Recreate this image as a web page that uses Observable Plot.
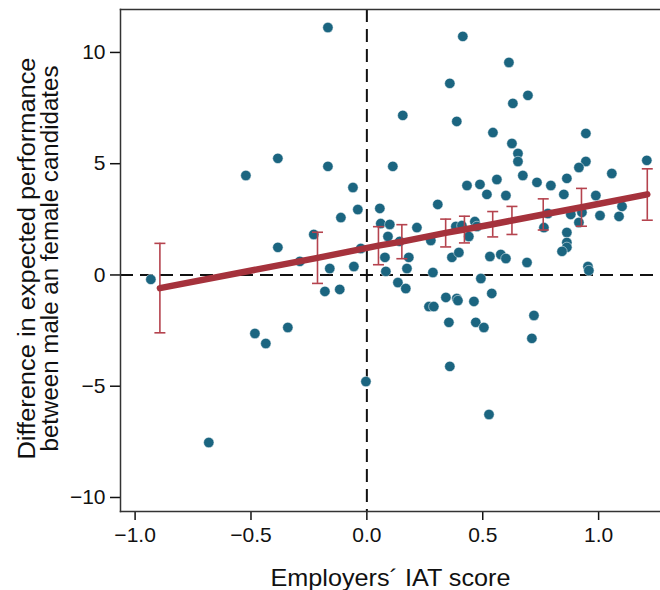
<!DOCTYPE html>
<html><head><meta charset="utf-8">
<script src="https://cdn.jsdelivr.net/npm/d3@7"></script>
<script src="https://cdn.jsdelivr.net/npm/@observablehq/plot@0.6"></script>
<style>body{margin:0;background:#fff;}</style>
</head><body><div id="chart"></div>
<script>
// Employers' IAT score (x) and difference in expected performance (y), one entry per employer
const iatScore = [-0.932,-0.522,-0.384,-0.168,-0.168,-0.060,-0.039,-0.112,-0.229,-0.384,-0.026,-0.289,-0.160,-0.056,-0.181,-0.117,-0.483,-0.436,-0.341,-0.682,-0.004,
0.414,0.613,0.358,0.695,0.630,0.155,0.388,0.544,0.945,0.626,0.652,0.652,0.112,0.945,0.915,1.208,0.673,1.057,0.432,0.488,0.561,0.734,0.794,0.863,0.518,0.600,0.850,0.988,0.306,0.056,1.101,0.781,0.880,0.928,1.006,1.088,0.060,0.099,0.091,0.216,0.142,0.276,0.384,0.410,0.466,0.475,0.440,0.764,0.915,
0.863,0.863,0.863,0.842,0.078,0.082,0.181,0.173,0.134,0.168,0.285,0.367,0.397,0.531,0.578,0.600,0.691,0.492,0.539,0.268,0.289,0.341,0.388,0.393,0.462,0.354,0.470,0.505,0.721,0.712,0.358,0.527,0.954,0.958];
const perfDiff = [-0.20,4.47,5.24,11.12,4.88,3.93,2.94,2.58,1.82,1.24,1.19,0.61,0.29,0.38,-0.74,-0.65,-2.63,-3.08,-2.36,-7.53,-4.79,
10.72,9.55,8.61,8.07,7.71,7.17,6.90,6.40,6.36,5.91,5.46,5.10,4.88,5.10,4.83,5.15,4.47,4.56,4.02,4.07,4.29,4.16,4.02,4.34,3.62,3.57,3.62,3.57,3.17,2.99,3.08,2.76,2.72,2.81,2.67,2.63,2.31,2.27,1.73,2.13,1.51,1.55,2.18,2.22,2.40,2.18,1.73,2.13,2.36,
1.91,1.46,1.24,1.06,0.79,0.16,0.79,0.29,-0.34,-0.61,0.11,0.79,1.01,0.83,0.92,0.74,0.56,-0.16,-0.83,-1.42,-1.42,-1.01,-1.06,-1.15,-1.19,-2.13,-2.13,-2.36,-1.82,-2.85,-4.11,-6.27,0.38,0.20];

// Fitted regression values with confidence intervals
const fitX    = [-0.893,-0.213,0.050,0.151,0.340,0.421,0.543,0.626,0.761,0.926,1.210];
const fitY    = [-0.59,0.77,1.32,1.50,1.89,2.04,2.28,2.45,2.72,3.04,3.62];
const fitLow  = [-2.60,-0.38,0.46,0.73,1.26,1.44,1.71,1.82,2.02,2.19,2.46];
const fitHigh = [1.42,1.92,2.17,2.26,2.51,2.64,2.85,3.08,3.42,3.89,4.77];

const xTicks = [-1, -0.5, 0, 0.5, 1];
const yTicks = [-10, -5, 0, 5, 10];
const xTitle = "Employers´ IAT score";
const yTitleLines = ["Difference in expected performance", "between male an female candidates"];

const points = iatScore.map((x, i) => ({x, y: perfDiff[i]}));
const fits = fitX.map((x, i) => ({x, fit: fitY[i], lo: fitLow[i], hi: fitHigh[i]}));

const capSymbol = {draw(ctx, size) { const r = Math.sqrt(size / Math.PI); ctx.moveTo(-r, 0); ctx.lineTo(r, 0); }};
const barColor = "#b5434e";
const dash = {stroke: "#111", strokeWidth: 2, strokeDasharray: "13,7"};
const titleStyle = {text: d => d, fontSize: 23, fill: "#111", textAnchor: "middle"};

const chart = Plot.plot({
  width: 660, height: 590,
  marginLeft: 120, marginRight: 0, marginTop: 9, marginBottom: 79,
  style: {fontFamily: "'Liberation Sans', Arial, sans-serif", fontSize: "21px", color: "#111", background: "#fff"},
  x: {domain: [-1.063, 1.267], label: null},
  y: {domain: [-10.63, 11.93], label: null},
  marks: [
    Plot.ruleX([0], dash),
    Plot.ruleY([0], dash),
    Plot.dot(points, {x: "x", y: "y", r: 5.2, fill: "#1b6580", stroke: "#fff", strokeWidth: 0.5}),
    Plot.ruleX(fits, {x: "x", y1: "lo", y2: "hi", stroke: barColor, strokeWidth: 1.6}),
    Plot.dot(fits, {x: "x", y: "lo", symbol: capSymbol, r: 5.5, fill: "none", stroke: barColor, strokeWidth: 1.6}),
    Plot.dot(fits, {x: "x", y: "hi", symbol: capSymbol, r: 5.5, fill: "none", stroke: barColor, strokeWidth: 1.6}),
    Plot.line(fits, {x: "x", y: "fit", stroke: "#a5323c", strokeWidth: 6.5, strokeLinecap: "round"}),
    Plot.axisX({ticks: xTicks, tickFormat: d3.format(".1f"), tickSize: 9, tickPadding: 7, label: null, strokeWidth: 1.5}),
    Plot.axisY({ticks: yTicks, tickFormat: d3.format("d"), tickSize: 10, tickPadding: 5, label: null, strokeWidth: 1.5}),
    Plot.frame({anchor: "left", stroke: "#333", strokeWidth: 1.5}),
    Plot.frame({anchor: "top", stroke: "#333", strokeWidth: 1.5}),
    Plot.frame({anchor: "bottom", stroke: "#333", strokeWidth: 1.5}),
    Plot.text([xTitle], {...titleStyle, frameAnchor: "bottom", dy: 57, lineAnchor: "top", fontSize: 24}),
    Plot.text([yTitleLines[0]], {...titleStyle, frameAnchor: "left", dx: -93, dy: -2, rotate: -90, lineAnchor: "middle"}),
    Plot.text([yTitleLines[1]], {...titleStyle, frameAnchor: "left", dx: -70, dy: -2, rotate: -90, lineAnchor: "middle"})
  ]
});
// the reference's titles are drawn with a slightly stretched face along their reading direction
const stretch = new Map([[yTitleLines[0], 402], [yTitleLines[1], 386], [xTitle, 240]]);
d3.select(chart).selectAll("text").each(function() {
  const len = stretch.get(this.textContent);
  if (len) { this.setAttribute("textLength", len); this.setAttribute("lengthAdjust", "spacingAndGlyphs"); }
});
document.getElementById("chart").appendChild(chart);
</script>
</body></html>
